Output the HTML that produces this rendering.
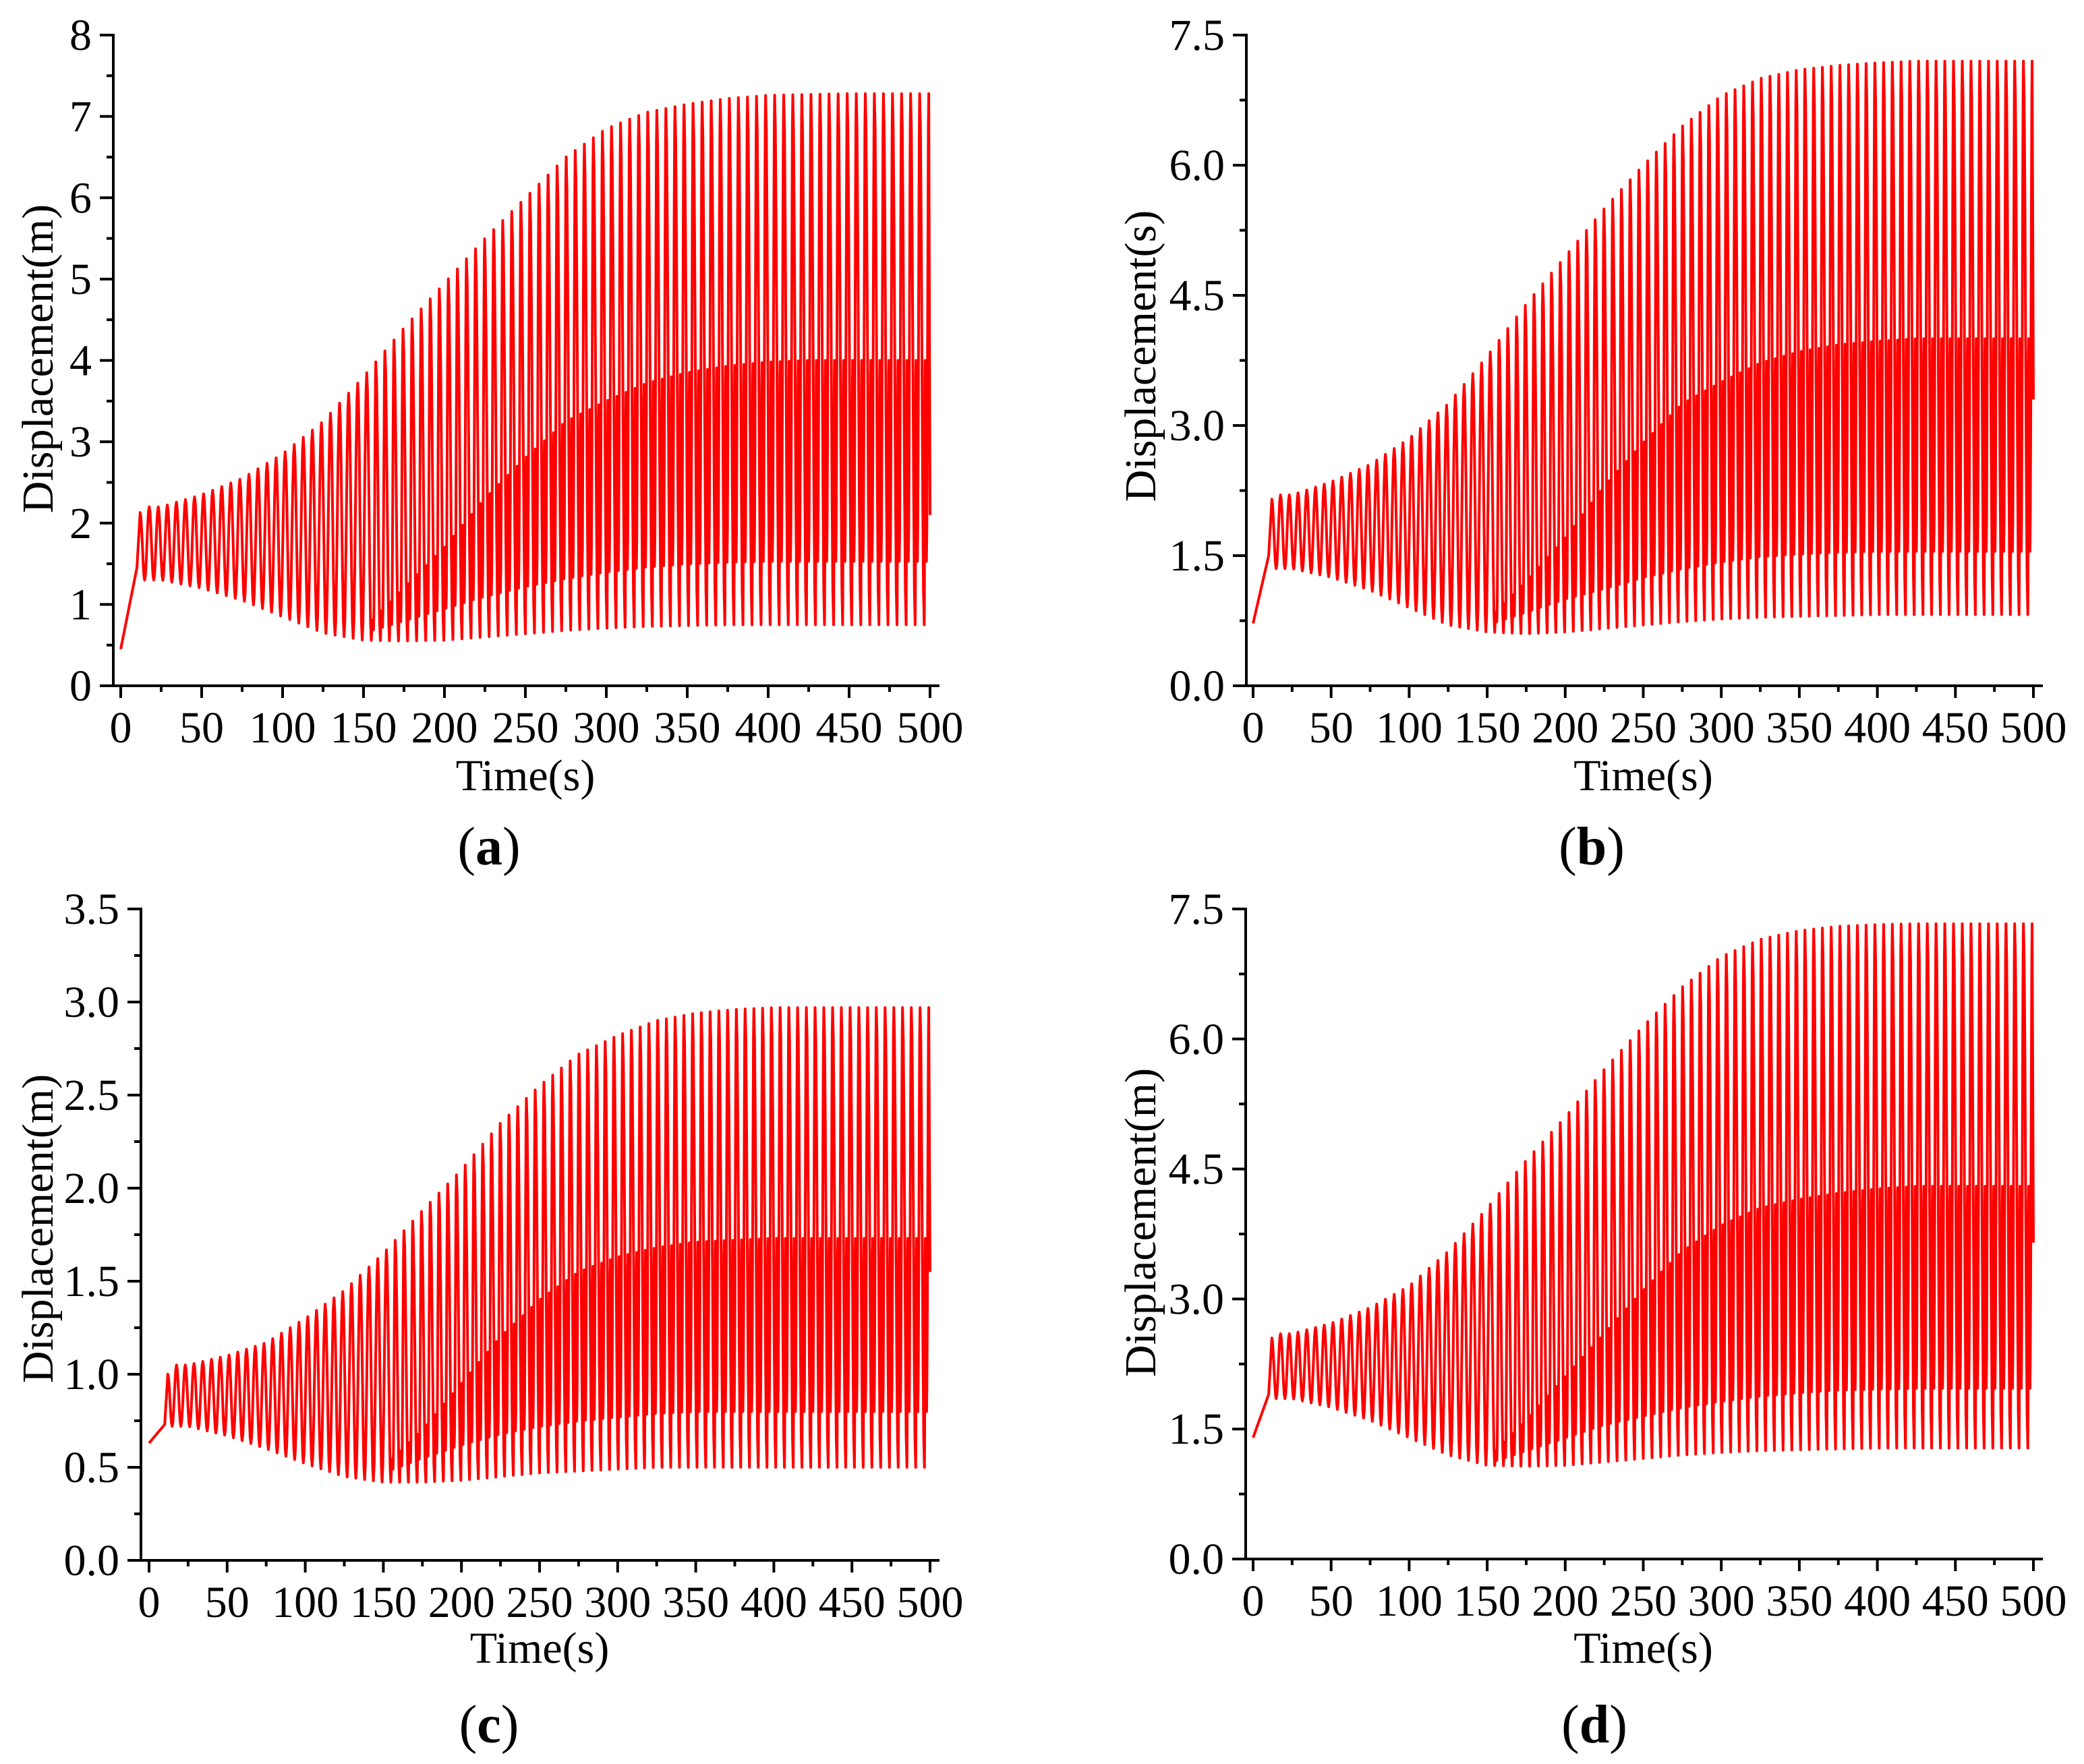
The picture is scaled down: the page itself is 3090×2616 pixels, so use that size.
<!DOCTYPE html>
<html><head><meta charset="utf-8"><style>
html,body{margin:0;padding:0;background:#fff;}
svg{display:block;font-family:"Liberation Serif",serif;}
</style></head><body>
<svg id="fig" width="3090" height="2616" viewBox="0 0 3090 2616" xmlns="http://www.w3.org/2000/svg"></svg>
<script>
// Envelope samples every 25 s (t = 25..500)
const envTimes = [25,50,75,100,125,150,175,200,225,250,275,300,325,350,375,400,425,450,475,500];

const aHigh = [2.2,2.35,2.55,2.85,3.25,3.8,4.4,4.95,5.5,6.0,6.5,6.85,7.05,7.15,7.22,7.26,7.27,7.28,7.28,7.28];
const aLow  = [1.3,1.2,1.05,0.85,0.65,0.56,0.55,0.56,0.6,0.64,0.68,0.71,0.73,0.74,0.75,0.75,0.75,0.75,0.75,0.75];
const aMidP = [null,null,null,null,null,0.7,1.2,1.7,2.3,2.8,3.25,3.5,3.72,3.85,3.93,3.98,4.0,4.0,4.0,4.0];
const aMidT = [null,null,null,null,null,0.65,0.8,0.95,1.1,1.22,1.32,1.4,1.46,1.5,1.52,1.53,1.53,1.53,1.53,1.53];
const aStart = [0.45,1.45,2.13,2.1];   // value at t=0, corner at t=10, first peak t=12, end value

const bHigh = [2.2,2.35,2.55,2.85,3.25,3.8,4.4,4.95,5.5,6.0,6.45,6.8,7.0,7.1,7.15,7.18,7.2,7.2,7.2,7.2];
const bLow  = [1.35,1.25,1.1,0.9,0.7,0.62,0.6,0.62,0.66,0.7,0.74,0.77,0.79,0.8,0.81,0.82,0.82,0.82,0.82,0.82];
const bMidP = [null,null,null,null,null,0.75,1.2,1.7,2.3,2.8,3.25,3.5,3.72,3.85,3.93,3.97,4.0,4.0,4.0,4.0];
const bMidT = [null,null,null,null,null,0.7,0.85,1.0,1.12,1.25,1.35,1.43,1.49,1.52,1.54,1.55,1.55,1.55,1.55,1.55];
const bStart = [0.72,1.5,2.15,3.3];

const cHigh = [1.05,1.1,1.17,1.3,1.45,1.65,1.88,2.1,2.35,2.55,2.72,2.82,2.9,2.94,2.96,2.97,2.97,2.97,2.97,2.97];
const cLow  = [0.72,0.67,0.6,0.52,0.45,0.42,0.42,0.43,0.45,0.47,0.48,0.49,0.5,0.5,0.5,0.5,0.5,0.5,0.5,0.5];
const cMidP = [null,null,null,null,null,0.5,0.7,0.95,1.2,1.4,1.55,1.63,1.68,1.71,1.72,1.73,1.73,1.73,1.73,1.73];
const cMidT = [null,null,null,null,null,0.47,0.55,0.62,0.68,0.72,0.75,0.77,0.79,0.8,0.8,0.8,0.8,0.8,0.8,0.8];
const cStart = [0.63,0.73,1.0,1.55];

const dHigh = [2.6,2.72,2.9,3.15,3.55,4.05,4.6,5.1,5.65,6.15,6.6,6.95,7.15,7.25,7.3,7.32,7.33,7.33,7.33,7.33];
const dLow  = [1.85,1.75,1.6,1.4,1.2,1.08,1.07,1.08,1.12,1.16,1.2,1.23,1.25,1.26,1.27,1.28,1.28,1.28,1.28,1.28];
const dMidP = [null,null,null,null,null,1.15,1.6,2.1,2.6,3.1,3.55,3.85,4.05,4.15,4.22,4.27,4.3,4.3,4.3,4.3];
const dMidT = [null,null,null,null,null,1.1,1.25,1.4,1.55,1.65,1.75,1.82,1.88,1.92,1.95,1.96,1.97,1.97,1.97,1.97];
const dStart = [1.4,1.9,2.55,3.65];

const xTicks = [0,50,100,150,200,250,300,350,400,450,500];
const yTicksA = ["0","1","2","3","4","5","6","7","8"];
const yTicksB = ["0.0","1.5","3.0","4.5","6.0","7.5"];
const yTicksC = ["0.0","0.5","1.0","1.5","2.0","2.5","3.0","3.5"];
const yTicksD = ["0.0","1.5","3.0","4.5","6.0","7.5"];
const period = 5.6;

const NS = "http://www.w3.org/2000/svg";
const svg = document.getElementById('fig');
function mk(tag, attrs, parent){
  const e = document.createElementNS(NS, tag);
  for (const k in attrs) e.setAttribute(k, attrs[k]);
  (parent||svg).appendChild(e); return e;
}
function env(arr, t){
  if (t <= envTimes[0]) return arr[0];
  for (let i = 0; i < envTimes.length - 1; i++) {
    if (t <= envTimes[i+1]) {
      const a = arr[i], b = arr[i+1];
      if (a == null || b == null) return null;
      return a + (b - a) * (t - envTimes[i]) / 25;
    }
  }
  return arr[arr.length-1];
}

const panels = [
  {id:'a', yAxisX:168, x0:179, x1:1379, yBase:1017, yTop:52, ymax:8, major:1, ticks:yTicksA, high:aHigh, low:aLow, midP:aMidP, midT:aMidT, start:aStart, ylabel:'Displacement(m)', ytx:56, yty:532, lx:725, ly:1282, ty:1172},
  {id:'b', yAxisX:1848, x0:1858, x1:3015, yBase:1017, yTop:52, ymax:7.5, major:1.5, ticks:yTicksB, high:bHigh, low:bLow, midP:bMidP, midT:bMidT, start:bStart, ylabel:'Displacement(s)', ytx:1691, yty:528, lx:2360, ly:1282, ty:1172},
  {id:'c', yAxisX:209, x0:221, x1:1379, yBase:2314, yTop:1348, ymax:3.5, major:0.5, ticks:yTicksC, high:cHigh, low:cLow, midP:cMidP, midT:cMidT, start:cStart, ylabel:'Displacement(m)', ytx:56, yty:1822, lx:725, ly:2584, ty:2466},
  {id:'d', yAxisX:1847, x0:1858, x1:3015, yBase:2312, yTop:1348, ymax:7.5, major:1.5, ticks:yTicksD, high:dHigh, low:dLow, midP:dMidP, midT:dMidT, start:dStart, ylabel:'Displacement(m)', ytx:1691, yty:1813, lx:2364, ly:2584, ty:2466}
];

panels.forEach(p => {
  const g = mk('g', {});
  
  
  const X = t => p.x0 + (p.x1 - p.x0) * t / 500;
  const Y = v => p.yBase - (p.yBase - p.yTop) * v / p.ymax;

  // extremes of the series
  const ext = [[12,p.start[2]]];
  for (let t = 12; t + period <= 500; t += period) {
    const L = env(p.low, t + 0.5*period);
    const M = env(p.midP, t + 0.6*period);
    const N = env(p.midT, t + 0.75*period);
    const H = env(p.high, t + period);
    ext.push([t + 0.5*period, L]);
    if (M != null && N != null && M > L) {
      ext.push([t + 0.6*period, M]);
      ext.push([t + 0.75*period, N]);
    }
    ext.push([t + period, H]);
  }
  // smooth (cosine) between successive extremes
  const pts = [[0,p.start[0]],[10,p.start[1]],[12,p.start[2]]];
  for (let i = 1; i < ext.length; i++) {
    const [t0,v0] = ext[i-1], [t1,v1] = ext[i];
    for (let s = 1; s <= 6; s++) {
      const f = s/6, w = (1 - Math.cos(Math.PI*f))/2;
      pts.push([t0 + (t1-t0)*f, v0 + (v1-v0)*w]);
    }
  }
  pts.push([500, p.start[3]]);
  const d = pts.map((q,i) => (i?'L':'M') + X(q[0]).toFixed(1) + ' ' + Y(q[1]).toFixed(1)).join(' ');
  const line = mk('path', {d:d, fill:'none', stroke:'#ff0000', 'stroke-width':4, 'stroke-linejoin':'round'}, g);
  
  

  // axes
  const ax = mk('g', {stroke:'#000', 'stroke-width':4, fill:'none'}, g);
  
  
  mk('line', {x1:p.yAxisX, y1:p.yTop-2, x2:p.yAxisX, y2:p.yBase}, ax);
  mk('line', {x1:p.yAxisX-20, y1:p.yBase, x2:p.x1+14, y2:p.yBase}, ax);
  p.ticks.forEach((lab, i) => {
    const v = i * p.major;
    const y = Y(v);
    mk('line', {x1:p.yAxisX-20, y1:y, x2:p.yAxisX, y2:y}, ax);
    if (i < p.ticks.length - 1) {
      const ym = Y(v + p.major/2);
      mk('line', {x1:p.yAxisX-10, y1:ym, x2:p.yAxisX, y2:ym}, ax);
    }
    const tx = mk('text', {x:p.yAxisX-32, y:y+22, 'font-size':66, 'text-anchor':'end', fill:'#000'}, g);
    
    
    tx.textContent = lab;
  });
  xTicks.forEach((v, i) => {
    const x = X(v);
    mk('line', {x1:x, y1:p.yBase, x2:x, y2:p.yBase+18}, ax);
    if (i < xTicks.length - 1) {
      const xm = X(v + 25);
      mk('line', {x1:xm, y1:p.yBase, x2:xm, y2:p.yBase+9}, ax);
    }
    const tx = mk('text', {x:x, y:p.yBase+84, 'font-size':66, 'text-anchor':'middle', fill:'#000'}, g);
    
    
    tx.textContent = String(v);
  });
  const xt = mk('text', {x:(p.x0+p.x1)/2, y:p.ty, 'font-size':66, 'text-anchor':'middle', fill:'#000'}, g);
  
  
  xt.textContent = 'Time(s)';
  const yt = mk('text', {x:0, y:0, 'font-size':66, 'text-anchor':'middle', fill:'#000', transform:'translate(' + (p.ytx+22) + ',' + p.yty + ') rotate(-90)'}, g);
  
  
  yt.textContent = p.ylabel;
  const lb = mk('text', {x:p.lx, y:p.ly, 'font-size':80, 'text-anchor':'middle', fill:'#000'}, g);
  
  
  lb.innerHTML = '(<tspan font-weight="bold">' + p.id + '</tspan>)';
});
</script>
</body></html>
